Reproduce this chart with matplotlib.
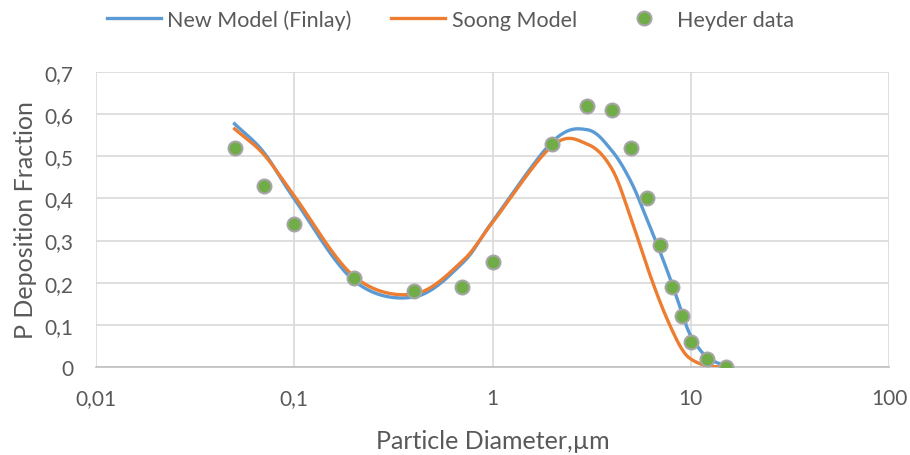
import matplotlib.pyplot as plt
import numpy as np
from matplotlib.ticker import FixedLocator, FixedFormatter, NullLocator

# particle diameter (um) shared by models and data
diam = [0.05, 0.07, 0.1, 0.2, 0.4, 0.7, 1, 2, 3, 4, 5, 6, 7, 8, 9, 10, 12, 15]

finlay = [0.577, 0.51, 0.399, 0.205, 0.166, 0.245, 0.345, 0.534, 0.563, 0.513,
          0.439, 0.351, 0.273, 0.200, 0.130, 0.074, 0.024, 0.002]
soong = [0.565, 0.505, 0.406, 0.215, 0.173, 0.25, 0.343, 0.525, 0.529, 0.470,
         0.351, 0.240, 0.154, 0.090, 0.043, 0.019, 0.003, 0.0]
heyder = [0.52, 0.43, 0.34, 0.21, 0.18, 0.19, 0.25, 0.53, 0.62, 0.61,
          0.52, 0.40, 0.29, 0.19, 0.12, 0.06, 0.02, 0.0]

xticks = [0.01, 0.1, 1, 10, 100]
xticklabels = ["0,01", "0,1", "1", "10", "100"]
yticks = [0, 0.1, 0.2, 0.3, 0.4, 0.5, 0.6, 0.7]
yticklabels = ["0", "0,1", "0,2", "0,3", "0,4", "0,5", "0,6", "0,7"]


def smooth(x, y, n=30):
    # catmull-rom through the points in log-x space, like excel's smoothed line
    lx = np.log10(x)
    y = np.asarray(y, float)
    px = np.concatenate([[2 * lx[0] - lx[1]], lx, [2 * lx[-1] - lx[-2]]])
    py = np.concatenate([[2 * y[0] - y[1]], y, [2 * y[-1] - y[-2]]])
    xs, ys = [], []
    t = np.linspace(0, 1, n)
    for i in range(1, len(px) - 2):
        for p, out in ((px, xs), (py, ys)):
            p0, p1, p2, p3 = p[i - 1], p[i], p[i + 1], p[i + 2]
            out.append(0.5 * ((2 * p1) + (-p0 + p2) * t
                              + (2 * p0 - 5 * p1 + 4 * p2 - p3) * t ** 2
                              + (-p0 + 3 * p1 - 3 * p2 + p3) * t ** 3))
    return 10 ** np.concatenate(xs), np.concatenate(ys)


plt.rcParams['font.family'] = ['Lato', 'DejaVu Sans']

fig = plt.figure(figsize=(9.1, 4.56), dpi=100)
ax = fig.add_axes([0.1055, 0.193, 0.8715, 0.647])

sx, sy = smooth(diam, finlay)
ax.plot(sx, sy, color='#5B9BD5', lw=2.4, label='New Model (Finlay)', zorder=3)
sx, sy = smooth(diam, soong)
ax.plot(sx, sy, color='#ED7D31', lw=2.4, label='Soong Model', zorder=3)
ax.plot(diam, heyder, 'o', color='#70AD47', mec='#A5A5A5', mew=1.5, ms=10,
        label='Heyder data', zorder=4)

ax.set_xscale('log')
ax.set_xlim(0.01, 100)
ax.set_ylim(0, 0.7)
ax.xaxis.set_major_locator(FixedLocator(xticks))
ax.xaxis.set_major_formatter(FixedFormatter(xticklabels))
ax.xaxis.set_minor_locator(NullLocator())
ax.set_yticks(yticks)
ax.set_yticklabels(yticklabels)

ax.grid(True, color='#D9D9D9', lw=1.2)
ax.set_axisbelow(True)
for s in ['top', 'right', 'left']:
    ax.spines[s].set_visible(False)
ax.spines['bottom'].set_color('#BFBFBF')
ax.spines['bottom'].set_linewidth(1.2)
ax.tick_params(length=0, labelsize=15, colors='#595959')
ax.tick_params(axis='x', pad=15)
ax.tick_params(axis='y', pad=16)

ax.set_xlabel('Particle Diameter,µm', fontsize=18, color='#595959')
ax.xaxis.set_label_coords(0.5, -0.21)
ax.set_ylabel('P Deposition Fraction', fontsize=18, color='#595959')
ax.yaxis.set_label_coords(-0.075, 0.5)

fig.legend(loc='center', bbox_to_anchor=(0.495, 0.955), ncol=3, frameon=False,
           fontsize=15.5, labelcolor='#595959', handlelength=2.5,
           columnspacing=1.85, handletextpad=0.3)

fig.savefig('out.png', dpi=100)
